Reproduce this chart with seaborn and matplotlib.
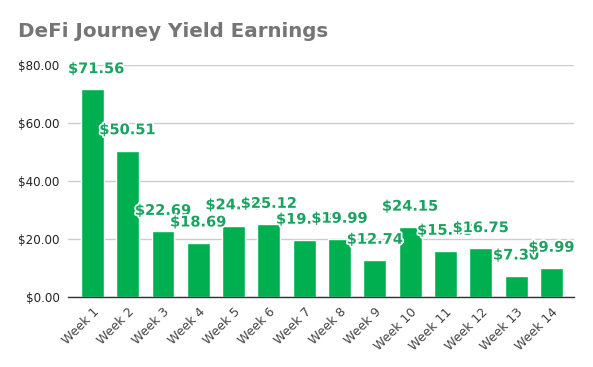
import pandas as pd
import matplotlib
matplotlib.use('Agg')
import matplotlib.pyplot as plt
import matplotlib.patheffects as pe
import seaborn as sns

weeks = ["Week 1", "Week 2", "Week 3", "Week 4", "Week 5", "Week 6", "Week 7",
         "Week 8", "Week 9", "Week 10", "Week 11", "Week 12", "Week 13", "Week 14"]
earnings = [71.56, 50.51, 22.69, 18.69, 24.60, 25.12, 19.65,
            19.99, 12.74, 24.15, 15.85, 16.75, 7.30, 9.99]
y_ticks = [0, 20, 40, 60, 80]

df = pd.DataFrame({"week": weeks, "earnings": earnings})

sns.set_style("white")
plt.rcParams['font.family'] = ['DejaVu Sans']

fig = plt.figure(figsize=(5.93, 3.67), dpi=100)
ax = fig.add_axes([0.1147, 0.1907, 0.8533, 0.6322])

sns.barplot(data=df, x="week", y="earnings", color="#00b050", saturation=1,
            width=0.65, ax=ax, zorder=2)

ax.set_ylim(0, 80)
ax.set_xlim(-0.69, 13.64)
ax.set_yticks(y_ticks)
ax.set_yticklabels([f"${v:.2f}" for v in y_ticks], fontsize=8.6, color="#222222")
ax.yaxis.grid(True, color="#cccccc", linewidth=1, zorder=0)
ax.set_axisbelow(True)
for s in ["top", "right", "left"]:
    ax.spines[s].set_visible(False)
ax.spines["bottom"].set_color("#333333")
ax.spines["bottom"].set_linewidth(1)
ax.spines["bottom"].set_zorder(3)
ax.tick_params(axis="both", length=0, pad=6)
ax.set_xlabel("")
ax.set_ylabel("")
plt.setp(ax.get_xticklabels(), rotation=45, ha="right", rotation_mode="anchor",
         fontsize=9, color="#444444")

# value labels above bars with a white halo; later ones drawn over earlier ones
halo = [pe.withStroke(linewidth=2.5, foreground="white")]
texts = []
for i, v in enumerate(earnings):
    t = ax.annotate(f"${v:.2f}", (i, v), xytext=(0, 15), textcoords="offset points",
                    ha="center", va="center", fontsize=10.5, fontweight="bold",
                    color="#1aa260", zorder=10 + i, annotation_clip=False,
                    path_effects=halo)
    texts.append(t)

fig.canvas.draw()
r = fig.canvas.get_renderer()
ax_box = ax.get_window_extent(r)
for t in texts:
    bb = t.get_window_extent(r)
    if bb.x0 < ax_box.x0:
        x, y = t.get_position()
        t.set_position((x + (ax_box.x0 - bb.x0) * 72 / fig.dpi, y))

fig.text(0.03, 0.915, "DeFi Journey Yield Earnings", fontsize=14.3, fontweight="bold",
         color="#757575", va="center", ha="left")

fig.savefig("out.png", dpi=100)
